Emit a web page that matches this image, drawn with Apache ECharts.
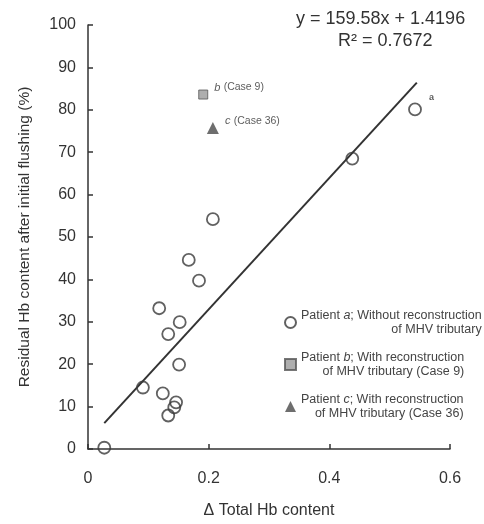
<!DOCTYPE html>
<html>
<head>
<meta charset="utf-8">
<script src="https://cdn.jsdelivr.net/npm/echarts@6/dist/echarts.min.js"></script>
<style>
  html, body { margin: 0; padding: 0; background: #fff; }
  #hb-chart { width: 484px; height: 524px; }
</style>
</head>
<body>
<div id="hb-chart"></div>
<script>
// values
const xTicks = [0, 0.2, 0.4, 0.6];
const yTicks = [0, 10, 20, 30, 40, 50, 60, 70, 80, 90, 100];

// patient a: without reconstruction of MHV tributary
const patientA = [
  [0.027, 0.3], [0.091, 14.5], [0.124, 13.1], [0.146, 11.0], [0.143, 9.8],
  [0.133, 7.9], [0.151, 19.9], [0.133, 27.1], [0.152, 29.9], [0.118, 33.2],
  [0.184, 39.7], [0.167, 44.6], [0.207, 54.2], [0.438, 68.5], [0.542, 80.1]
];
// patient b (case 9) and c (case 36)
const patientB = [[0.191, 83.6]];
const patientC = [[0.207, 75.7]];
// regression line end points
const fitLine = [[0.027, 6.1], [0.545, 86.4]];
const equationLines = ["y = 159.58x + 1.4196", "R\u00b2 = 0.7672"];

const chart = echarts.init(document.getElementById("hb-chart"));
const font = "Liberation Sans, Arial, sans-serif";
const ink = "#333";

const legendRich = {
  l: { fontSize: 12.5, color: "#444", fontFamily: font, lineHeight: 14 },
  i: { fontSize: 12.5, color: "#444", fontFamily: font, fontStyle: "italic", lineHeight: 14 },
  r: { fontSize: 12.5, color: "#444", fontFamily: font, align: "right", lineHeight: 14 }
};

const option = {
  backgroundColor: "#fff",
  animation: false,
  grid: { left: 88, right: 34, top: 25, bottom: 71 },
  xAxis: {
    type: "value",
    min: 0,
    max: 0.6,
    interval: 0.2,
    name: "\u0394 Total Hb content",
    nameLocation: "middle",
    nameGap: 54,
    nameTextStyle: { fontSize: 16, color: ink, fontFamily: font },
    axisLine: { lineStyle: { color: ink, width: 1.5 } },
    axisTick: { inside: true, length: 5, lineStyle: { color: ink, width: 1.5 } },
    axisLabel: {
      margin: 22,
      fontSize: 16,
      color: ink,
      fontFamily: font,
      formatter: v => (xTicks.indexOf(+v.toFixed(1)) >= 0 ? (v === 0 ? "0" : v.toFixed(1)) : "")
    },
    splitLine: { show: false }
  },
  yAxis: {
    type: "value",
    min: yTicks[0],
    max: yTicks[yTicks.length - 1],
    interval: 10,
    name: "Residual Hb content after initial flushing (%)",
    nameLocation: "middle",
    nameGap: 55,
    nameTextStyle: { fontSize: 15.5, color: ink, fontFamily: font },
    axisLine: { show: true, lineStyle: { color: ink, width: 1.5 } },
    axisTick: { show: true, inside: true, length: 5, lineStyle: { color: ink, width: 1.5 } },
    axisLabel: { margin: 12, fontSize: 16, color: ink, fontFamily: font },
    splitLine: { show: false }
  },
  legend: {
    orient: "vertical",
    left: 279,
    top: 304,
    itemWidth: 11,
    itemHeight: 11,
    itemGap: 15,
    data: ["a", "b", "c"],
    formatter: name => {
      if (name === "a") return "{l|Patient }{i|a}{l|; Without reconstruction}\n{r|of MHV tributary}";
      if (name === "b") return "{l|Patient }{i|b}{l|; With reconstruction}\n{r|of MHV tributary (Case 9)}";
      return "{l|Patient }{i|c}{l|; With reconstruction}\n{r|of MHV tributary (Case 36)}";
    },
    textStyle: { rich: legendRich }
  },
  graphic: [
    {
      type: "text",
      left: 296,
      top: 10,
      style: { text: equationLines[0], fontSize: 18, fill: ink, fontFamily: font }
    },
    {
      type: "text",
      left: 338,
      top: 32,
      style: { text: equationLines[1], fontSize: 18, fill: ink, fontFamily: font }
    }
  ],
  series: [
    {
      name: "fit",
      type: "line",
      data: fitLine,
      symbol: "none",
      lineStyle: { color: ink, width: 2 },
      z: 1
    },
    {
      name: "a",
      type: "scatter",
      symbol: "circle",
      symbolSize: 12,
      itemStyle: { color: "rgba(255,255,255,0)", borderColor: "#3a3a3a", borderWidth: 1.8 },
      data: patientA.map((p, i) =>
        i === patientA.length - 1
          ? {
              value: p,
              label: {
                show: true,
                formatter: "a",
                position: "right",
                offset: [2, -12],
                fontSize: 9,
                fontWeight: "bold",
                color: ink,
                fontFamily: font
              }
            }
          : p
      ),
      z: 3
    },
    {
      name: "b",
      type: "scatter",
      symbol: "rect",
      symbolSize: 9,
      itemStyle: { color: "#9a9a9a", borderColor: "#555", borderWidth: 1 },
      label: {
        show: true,
        position: "right",
        offset: [1, -7],
        formatter: "{i|b} {l|(Case 9)}",
        rich: {
          i: { fontSize: 11, fontStyle: "italic", color: ink, fontFamily: font },
          l: { fontSize: 10.5, color: ink, fontFamily: font }
        }
      },
      data: patientB,
      z: 3
    },
    {
      name: "c",
      type: "scatter",
      symbol: "triangle",
      symbolSize: 12,
      itemStyle: { color: "#4a4a4a" },
      label: {
        show: true,
        position: "right",
        offset: [1, -7],
        formatter: "{i|c} {l|(Case 36)}",
        rich: {
          i: { fontSize: 11, fontStyle: "italic", color: ink, fontFamily: font },
          l: { fontSize: 10.5, color: ink, fontFamily: font }
        }
      },
      data: patientC,
      z: 3
    }
  ]
};

chart.setOption(option);
</script>
</body>
</html>
